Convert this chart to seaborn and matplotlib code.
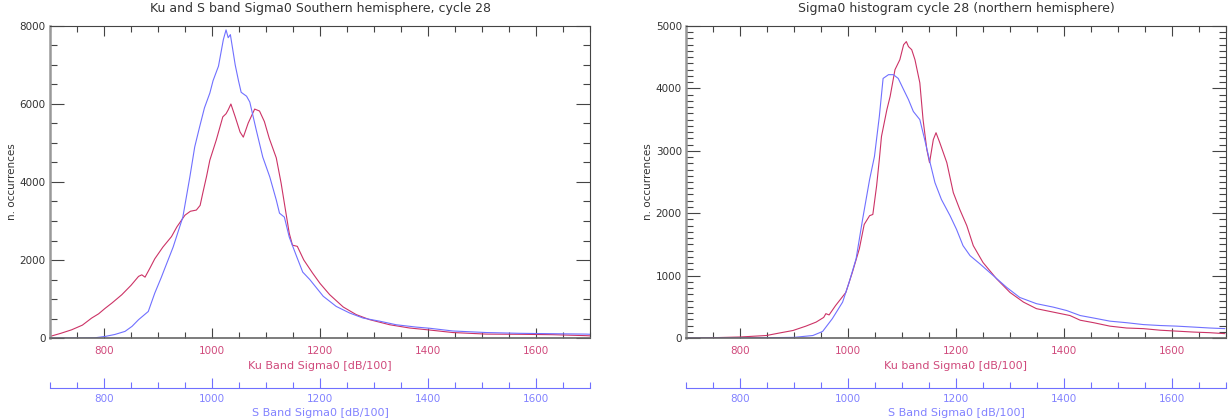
import matplotlib
matplotlib.use("Agg")
import matplotlib.pyplot as plt
import seaborn as sns
from matplotlib.ticker import MultipleLocator, FixedLocator

# ---------------- data ----------------
# Left panel: Southern hemisphere, cycle 28
south_ku_x = [700, 720, 740, 760, 777, 790, 802, 815, 833, 850, 864, 870, 876, 885, 894,
              909, 925, 935, 950, 960, 971, 978, 983, 990, 996, 1008, 1020, 1026, 1030,
              1035, 1043, 1052, 1058, 1067, 1079, 1088, 1097, 1106, 1119, 1128, 1137,
              1143, 1149, 1158, 1170, 1186, 1200, 1218, 1243, 1267, 1292, 1329, 1366,
              1403, 1446, 1508, 1570, 1631, 1693, 1700]
south_ku_y = [40, 120, 210, 330, 510, 620, 760, 900, 1110, 1350, 1580, 1620, 1560, 1790, 2030,
              2330, 2600, 2850, 3150, 3250, 3280, 3400, 3720, 4150, 4560, 5080, 5670, 5750, 5850,
              6000, 5670, 5280, 5150, 5510, 5870, 5820, 5550, 5120, 4620, 3970, 3200,
              2690, 2380, 2350, 2000, 1670, 1400, 1110, 795, 600, 470, 340, 256,
              205, 140, 100, 95, 85, 60, 55]

south_s_x = [700, 760, 783, 802, 820, 839, 852, 864, 882, 894, 906, 913, 928, 946, 959,
             968, 977, 986, 996, 1002, 1012, 1021, 1026, 1030, 1034, 1043, 1049, 1054, 1064,
             1070, 1082, 1094, 1107, 1119, 1125, 1134, 1143, 1157, 1168, 1181, 1206, 1230,
             1255, 1280, 1311, 1341, 1378, 1403, 1446, 1508, 1570, 1631, 1693, 1700]
south_s_y = [0, 0, 5, 40, 90, 170, 300, 470, 680, 1150, 1550, 1800, 2330, 3100, 4130,
             4900, 5410, 5900, 6280, 6600, 6970, 7650, 7900, 7700, 7780, 7000, 6600, 6300, 6200,
             6050, 5330, 4640, 4130, 3540, 3200, 3100, 2590, 2080, 1690, 1500, 1070, 810,
             640, 510, 430, 340, 280, 250, 180, 140, 120, 110, 100, 95]

# Right panel: Northern hemisphere, cycle 28
north_ku_x = [700, 750, 800, 849, 873, 898, 922, 941, 955, 959, 965, 977, 996, 1008, 1021,
              1030, 1040, 1046, 1053, 1058, 1062, 1072, 1078, 1087, 1096, 1103, 1108, 1112,
              1118, 1124, 1133, 1139, 1146, 1151, 1158, 1163, 1170, 1183, 1195, 1207, 1220,
              1232, 1250, 1275, 1300, 1325, 1349, 1380, 1411, 1430, 1455, 1485, 1516, 1547,
              1578, 1609, 1640, 1670, 1698]
north_ku_y = [0, 5, 16, 40, 80, 120, 190, 255, 330, 390, 370, 520, 730, 1050, 1430,
              1820, 1960, 1980, 2440, 2860, 3230, 3660, 3870, 4300, 4460, 4700, 4750, 4670,
              4620, 4460, 4090, 3500, 3020, 2810, 3180, 3290, 3130, 2810, 2330, 2060, 1800,
              1480, 1210, 950, 730, 575, 470, 415, 360, 285, 245, 190, 160, 150,
              125, 110, 95, 85, 70]

north_s_x = [700, 800, 900, 935, 953, 971, 990, 1002, 1015, 1027, 1040, 1049, 1058, 1065,
             1075, 1084, 1093, 1103, 1112, 1121, 1133, 1142, 1152, 1161, 1173, 1189, 1201,
             1213, 1226, 1244, 1269, 1294, 1318, 1349, 1380, 1405, 1430, 1455, 1485, 1516,
             1547, 1578, 1609, 1640, 1670, 1698]
north_s_y = [0, 0, 10, 40, 105, 310, 575, 890, 1270, 1900, 2540, 2910, 3550, 4160,
             4220, 4220, 4160, 3980, 3820, 3630, 3500, 3180, 2810, 2490, 2220, 1960, 1740,
             1480, 1320, 1190, 1000, 810, 650, 550, 495, 440, 360, 320, 270, 245,
             215, 200, 190, 175, 160, 150]

titles = ["Ku and S band Sigma0 Southern hemisphere, cycle 28",
          "Sigma0 histogram cycle 28 (northern hemisphere)"]
ku_labels = ["Ku Band Sigma0 [dB/100]", "Ku band Sigma0 [dB/100]"]
s_label = "S Band Sigma0 [dB/100]"
y_label = "n. occurrences"
x_ticks = [800, 1000, 1200, 1400, 1600]
x_minor_ticks = [700, 750, 850, 900, 950, 1050, 1100, 1150, 1250, 1300, 1350,
                 1450, 1500, 1550, 1650, 1700]
y_max = [8000, 5000]
y_major = [2000, 1000]
y_minor = [500, 100]

# ---------------- styling ----------------
sns.set_theme(style="white")
plt.rcParams['font.family'] = ['DejaVu Sans']

RED = "#cc3366"
BLUE = "#7070ff"
KU_TXT = "#d04a7c"
S_TXT = "#8282ff"
TXT = "#333333"

W, H = 1231, 419
fig = plt.figure(figsize=(W / 100, H / 100), dpi=100)
ax_left = fig.add_axes([50 / W, 1 - 338 / H, 540 / W, 312 / H])
ax_right = fig.add_axes([686 / W, 1 - 338 / H, 540 / W, 312 / H])

series = [
    (ax_left, south_ku_x, south_ku_y, south_s_x, south_s_y),
    (ax_right, north_ku_x, north_ku_y, north_s_x, north_s_y),
]

for i, (ax, kx, ky, sx, sy) in enumerate(series):
    sns.lineplot(x=kx, y=ky, ax=ax, color=RED, lw=0.8, sort=False, estimator=None)
    sns.lineplot(x=sx, y=sy, ax=ax, color=BLUE, lw=0.8, sort=False, estimator=None)

    ax.set_xlim(700, 1700)
    ax.set_ylim(0, y_max[i])
    ax.xaxis.set_major_locator(FixedLocator(x_ticks))
    ax.xaxis.set_minor_locator(FixedLocator(x_minor_ticks))
    ax.yaxis.set_major_locator(MultipleLocator(y_major[i]))
    ax.yaxis.set_minor_locator(MultipleLocator(y_minor[i]))

    ax.tick_params(axis='both', which='both', direction='in', top=True, right=True,
                   bottom=True, left=True, color="#444444", width=0.8)
    ax.tick_params(axis='x', which='major', length=7, labelsize=7.5, labelcolor=KU_TXT, pad=6)
    ax.tick_params(axis='x', which='minor', length=4)
    ax.tick_params(axis='y', which='major', length=10, labelsize=7.5, labelcolor=TXT, pad=3)
    ax.tick_params(axis='y', which='minor', length=5)

    for side in ['top', 'right']:
        ax.spines[side].set_color("#444444")
        ax.spines[side].set_linewidth(0.8)
    ax.spines['left'].set_color("#999999")
    ax.spines['left'].set_linewidth(1.8)
    ax.spines['bottom'].set_color("#666666")
    ax.spines['bottom'].set_linewidth(1.2)

    ax.set_title(titles[i], fontsize=9, color=TXT, pad=10)
    ax.set_xlabel(ku_labels[i], fontsize=8, color=KU_TXT, labelpad=3)
    ax.set_ylabel(y_label, fontsize=7.5, color=TXT, labelpad=2)

    sec = ax.secondary_xaxis(-50 / 312)
    sec.xaxis.set_major_locator(FixedLocator(x_ticks))
    sec.xaxis.set_minor_locator(FixedLocator(x_minor_ticks))
    sec.tick_params(axis='x', which='both', direction='in', color=BLUE, width=0.8,
                    labelcolor=S_TXT, labelsize=7.5)
    sec.tick_params(axis='x', which='major', length=7, pad=4)
    sec.tick_params(axis='x', which='minor', length=4)
    sec.spines['bottom'].set_color(BLUE)
    sec.spines['bottom'].set_linewidth(0.8)
    sec.set_xlabel(s_label, fontsize=8, color=S_TXT, labelpad=3)

fig.savefig("out.png", dpi=100)
